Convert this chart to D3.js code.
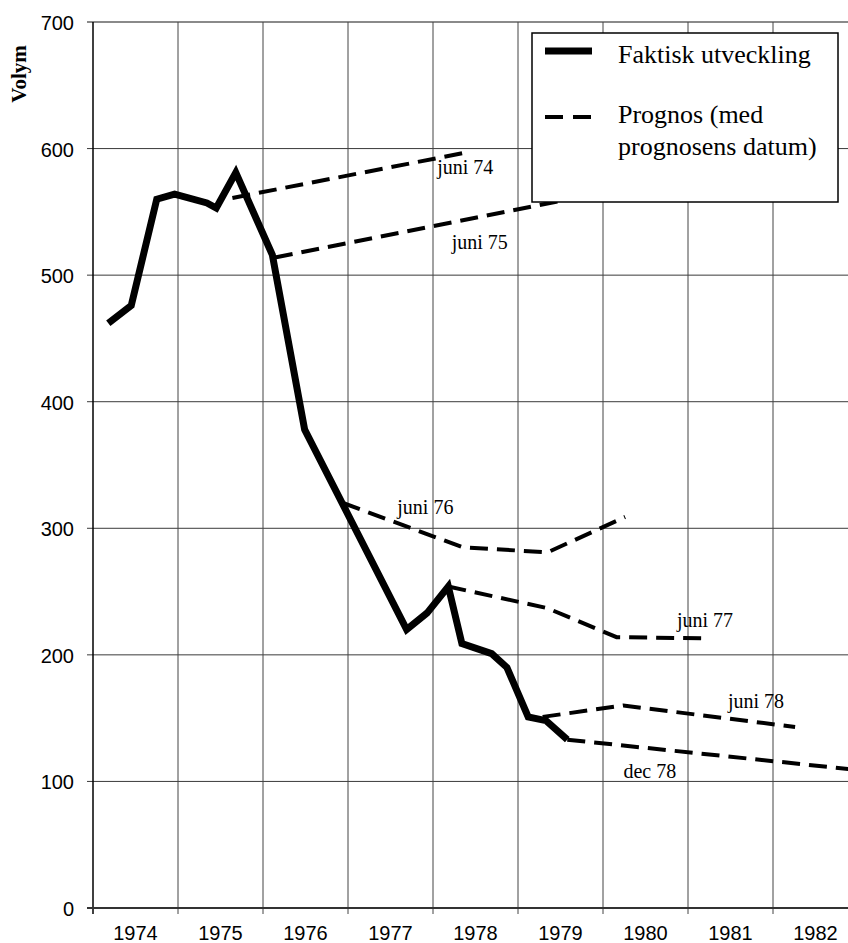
<!DOCTYPE html>
<html>
<head>
<meta charset="utf-8">
<script src="https://cdn.jsdelivr.net/npm/d3@7"></script>
<style>
  body { margin: 0; background: #fff; }
  .tick-label { font-family: Arial, "Liberation Sans", sans-serif; font-size: 20px; fill: #000; }
  .serif { font-family: "Times New Roman", "Liberation Serif", serif; fill: #000; }
</style>
</head>
<body>
<script>
// x-axis categories (years) and y ticks
const years = [1974, 1975, 1976, 1977, 1978, 1979, 1980, 1981, 1982]
const yTicks = [0, 100, 200, 300, 400, 500, 600, 700]

// actual development (decimal year, volume)
const actualTime = [1974.18, 1974.45, 1974.75, 1974.96, 1975.34, 1975.45, 1975.68, 1976.11, 1976.49,
  1977.69, 1977.93, 1978.18, 1978.34, 1978.69, 1978.87, 1979.12, 1979.33, 1979.58]
const actualValue = [462, 476, 560, 564, 557, 553, 581, 516, 378,
  220, 233, 254, 209, 201, 190, 151, 148, 133]

// forecasts
const forecastNames = ['juni 74', 'juni 75', 'juni 76', 'juni 77', 'juni 78', 'dec 78']
const juni74Time = [1975.64, 1978.40]
const juni74Value = [561, 597]
const juni75Time = [1976.14, 1979.90]
const juni75Value = [514, 564]
const juni76Time = [1976.94, 1978.35, 1979.35, 1980.26]
const juni76Value = [320, 285, 281, 309]
const juni77Time = [1978.18, 1979.34, 1980.16, 1981.24]
const juni77Value = [254, 237, 214, 213]
const juni78Time = [1979.29, 1980.24, 1982.26]
const juni78Value = [151, 160, 143]
const dec78Time = [1979.58, 1983.0]
const dec78Value = [133, 109]

// where each forecast's label sits (decimal year, volume)
const labelTime = [1978.05, 1978.22, 1977.58, 1980.87, 1981.47, 1980.24]
const labelValue = [580, 521, 311, 222, 158, 103]

const forecastTimes = [juni74Time, juni75Time, juni76Time, juni77Time, juni78Time, dec78Time]
const forecastValues = [juni74Value, juni75Value, juni76Value, juni77Value, juni78Value, dec78Value]

const width = 848
const height = 943
const margin = { top: 22, left: 93, bottom: 35 }
const plotBottom = height - margin.bottom

const svg = d3.select('body')
  .append('svg')
  .attr('width', width)
  .attr('height', height)

const xScale = d3.scaleLinear()
  .domain([1974, 1983])
  .range([margin.left, margin.left + 9 * 85])

const yScale = d3.scaleLinear()
  .domain([0, 700])
  .range([plotBottom, margin.top])

// horizontal grid lines
svg.append('g')
  .selectAll('line')
  .data(yTicks.filter(d => d > 0 && d < 700))
  .enter()
  .append('line')
  .attr('x1', margin.left - 6)
  .attr('x2', width)
  .attr('y1', d => yScale(d))
  .attr('y2', d => yScale(d))
  .attr('stroke', '#3a3a3a')
  .attr('stroke-width', 1)

// top border
svg.append('line')
  .attr('x1', margin.left - 6)
  .attr('x2', width)
  .attr('y1', yScale(700))
  .attr('y2', yScale(700))
  .attr('stroke', '#8a8a8a')
  .attr('stroke-width', 2)

// vertical grid lines at year boundaries
svg.append('g')
  .selectAll('line')
  .data(years)
  .enter()
  .append('line')
  .attr('x1', d => xScale(d))
  .attr('x2', d => xScale(d))
  .attr('y1', yScale(700))
  .attr('y2', plotBottom + 6)
  .attr('stroke', (d, i) => i === 0 ? '#000' : '#444')
  .attr('stroke-width', (d, i) => i === 0 ? 1.5 : 1)

// bottom axis line
svg.append('line')
  .attr('x1', margin.left - 6)
  .attr('x2', width)
  .attr('y1', plotBottom)
  .attr('y2', plotBottom)
  .attr('stroke', '#333')
  .attr('stroke-width', 2)

// y tick labels
svg.append('g')
  .selectAll('text')
  .data(yTicks)
  .enter()
  .append('text')
  .attr('class', 'tick-label')
  .attr('x', margin.left - 19)
  .attr('y', d => yScale(d) + 8)
  .attr('text-anchor', 'end')
  .text(d => d)

// x tick labels, centered in each year
svg.append('g')
  .selectAll('text')
  .data(years)
  .enter()
  .append('text')
  .attr('class', 'tick-label')
  .attr('x', d => xScale(d + 0.5))
  .attr('y', height - 3)
  .attr('text-anchor', 'middle')
  .text(d => d)

// y-axis label
svg.append('text')
  .attr('class', 'serif')
  .attr('transform', `translate(26, 74) rotate(-90)`)
  .attr('text-anchor', 'middle')
  .style('font-size', '21px')
  .style('font-weight', 'bold')
  .text('Volym')

const line = d3.line()
  .x(d => xScale(d[0]))
  .y(d => yScale(d[1]))

// forecast lines
svg.append('g')
  .selectAll('path')
  .data(forecastNames)
  .enter()
  .append('path')
  .attr('d', (d, i) => line(d3.zip(forecastTimes[i], forecastValues[i])))
  .attr('fill', 'none')
  .attr('stroke', '#000')
  .attr('stroke-width', 4)
  .attr('stroke-dasharray', '18,9')

// actual line
svg.append('path')
  .datum(d3.zip(actualTime, actualValue))
  .attr('d', line)
  .attr('fill', 'none')
  .attr('stroke', '#000')
  .attr('stroke-width', 7)
  .attr('stroke-linejoin', 'miter')
  .attr('stroke-miterlimit', 3)

// forecast labels
svg.append('g')
  .selectAll('text')
  .data(forecastNames)
  .enter()
  .append('text')
  .attr('class', 'serif')
  .style('font-size', '20px')
  .attr('x', (d, i) => xScale(labelTime[i]))
  .attr('y', (d, i) => yScale(labelValue[i]))
  .text(d => d)

// legend
const legend = svg.append('g')

legend.append('rect')
  .attr('x', 532)
  .attr('y', 33)
  .attr('width', 306)
  .attr('height', 169)
  .attr('fill', '#fff')
  .attr('stroke', '#000')
  .attr('stroke-width', 1.5)

legend.append('line')
  .attr('x1', 545).attr('x2', 592)
  .attr('y1', 51).attr('y2', 51)
  .attr('stroke', '#000')
  .attr('stroke-width', 7)

legend.append('line')
  .attr('x1', 545).attr('x2', 591)
  .attr('y1', 117).attr('y2', 117)
  .attr('stroke', '#000')
  .attr('stroke-width', 4)
  .attr('stroke-dasharray', '18,10')

legend.append('text')
  .attr('class', 'serif')
  .style('font-size', '26px')
  .attr('x', 618)
  .attr('y', 63)
  .text('Faktisk utveckling')

legend.append('text')
  .attr('class', 'serif')
  .style('font-size', '26px')
  .attr('x', 618)
  .attr('y', 123)
  .text('Prognos (med')

legend.append('text')
  .attr('class', 'serif')
  .style('font-size', '26px')
  .attr('x', 618)
  .attr('y', 155)
  .text('prognosens datum)')
</script>
</body>
</html>
